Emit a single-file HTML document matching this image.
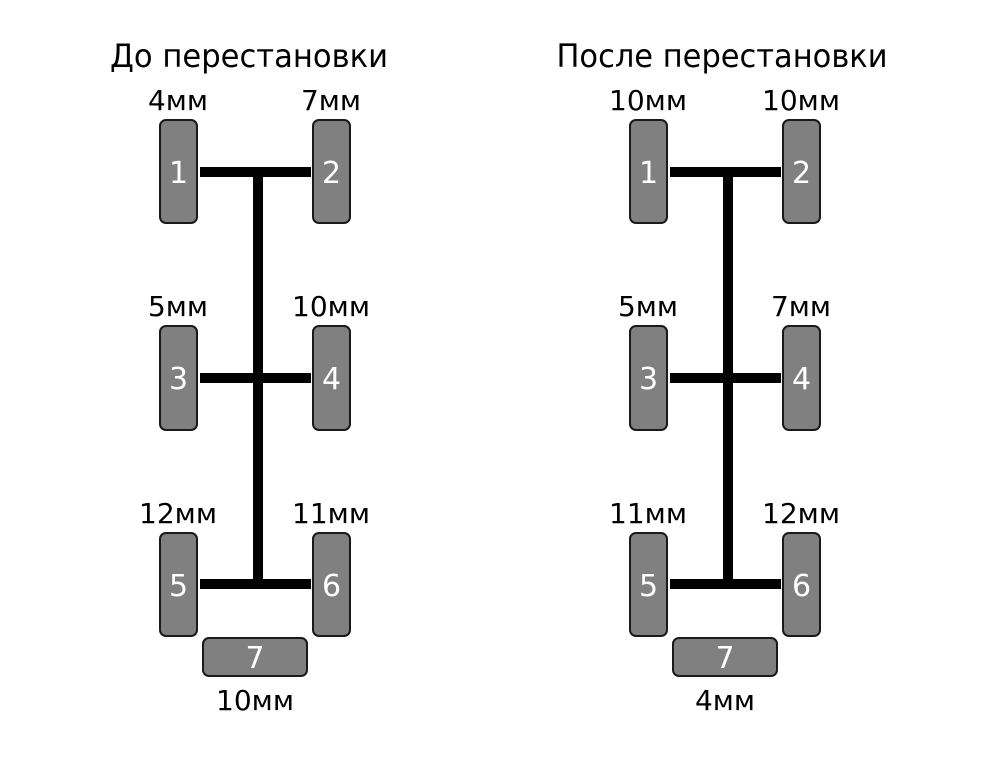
<!DOCTYPE html>
<html><head><meta charset="utf-8"><style>html,body{margin:0;padding:0;background:#fff}</style></head>
<body>
<svg width="1000" height="774" viewBox="0 0 1000 774" xmlns="http://www.w3.org/2000/svg" font-family="'DejaVu Sans','Liberation Sans',sans-serif">
<defs>
<g id="car">
  <rect x="253" y="172" width="10" height="417" fill="#000"/>
  <rect x="200" y="167" width="111" height="10" fill="#000"/>
  <rect x="200" y="373" width="111" height="10" fill="#000"/>
  <rect x="200" y="579" width="111" height="10" fill="#000"/>
  <g fill="#808080" stroke="#1a1a1a" stroke-width="2">
    <rect x="160" y="120" width="37" height="103" rx="6"/>
    <rect x="313" y="120" width="37" height="103" rx="6"/>
    <rect x="160" y="326" width="37" height="104" rx="6"/>
    <rect x="313" y="326" width="37" height="104" rx="6"/>
    <rect x="160" y="533" width="37" height="103" rx="6"/>
    <rect x="313" y="533" width="37" height="103" rx="6"/>
    <rect x="203" y="638" width="104" height="38" rx="6"/>
  </g>
  <g fill="#fff" font-size="30" text-anchor="middle">
    <text x="178.5" y="183">1</text>
    <text x="331.5" y="183">2</text>
    <text x="178.5" y="389">3</text>
    <text x="331.5" y="389">4</text>
    <text x="178.5" y="596">5</text>
    <text x="331.5" y="596">6</text>
    <text x="255" y="668">7</text>
  </g>
</g>
</defs>
<use href="#car"/>
<use href="#car" transform="translate(470,0)"/>
<g fill="#000" font-size="28" text-anchor="middle">
  <text x="249" y="67" font-size="32" textLength="278" lengthAdjust="spacingAndGlyphs">До перестановки</text>
  <text x="722" y="67" font-size="32" textLength="331" lengthAdjust="spacingAndGlyphs">После перестановки</text>

  <text x="178" y="110" textLength="60" lengthAdjust="spacingAndGlyphs">4мм</text>
  <text x="331" y="110" textLength="60" lengthAdjust="spacingAndGlyphs">7мм</text>
  <text x="178" y="316" textLength="60" lengthAdjust="spacingAndGlyphs">5мм</text>
  <text x="331" y="316" textLength="78" lengthAdjust="spacingAndGlyphs">10мм</text>
  <text x="178" y="523" textLength="78" lengthAdjust="spacingAndGlyphs">12мм</text>
  <text x="331" y="523" textLength="78" lengthAdjust="spacingAndGlyphs">11мм</text>
  <text x="255" y="710" textLength="78" lengthAdjust="spacingAndGlyphs">10мм</text>

  <text x="648" y="110" textLength="78" lengthAdjust="spacingAndGlyphs">10мм</text>
  <text x="801" y="110" textLength="78" lengthAdjust="spacingAndGlyphs">10мм</text>
  <text x="648" y="316" textLength="60" lengthAdjust="spacingAndGlyphs">5мм</text>
  <text x="801" y="316" textLength="60" lengthAdjust="spacingAndGlyphs">7мм</text>
  <text x="648" y="523" textLength="78" lengthAdjust="spacingAndGlyphs">11мм</text>
  <text x="801" y="523" textLength="78" lengthAdjust="spacingAndGlyphs">12мм</text>
  <text x="725" y="710" textLength="60" lengthAdjust="spacingAndGlyphs">4мм</text>
</g>
</svg>
</body></html>
